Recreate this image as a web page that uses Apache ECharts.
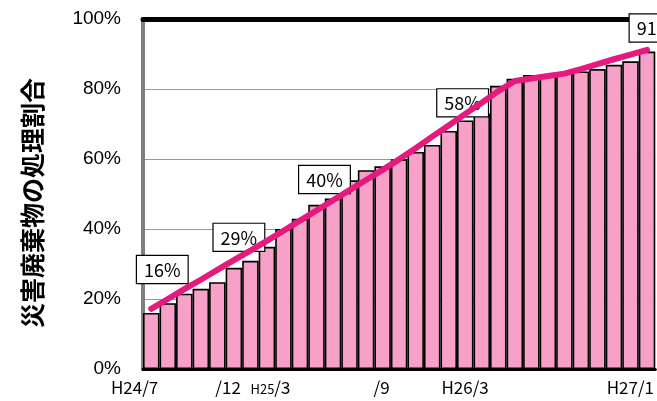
<!DOCTYPE html>
<html>
<head>
<meta charset="utf-8">
<script src="https://cdn.jsdelivr.net/npm/echarts@6/dist/echarts.min.js"></script>
<style>
html,body{margin:0;padding:0;background:#fff;}
#chart{width:657px;height:401px;}
</style>
</head>
<body>
<div id="chart"></div>
<script>
// Months H24/7 .. H27/1
const categories = [
  'H24/7','H24/8','H24/9','H24/10','H24/11','H24/12',
  'H25/1','H25/2','H25/3','H25/4','H25/5','H25/6','H25/7','H25/8','H25/9','H25/10','H25/11','H25/12',
  'H26/1','H26/2','H26/3','H26/4','H26/5','H26/6','H26/7','H26/8','H26/9','H26/10','H26/11','H26/12',
  'H27/1'
];
// Monthly processing ratio (%) - bars
const actualValues = [
  16.0, 18.8, 21.5, 22.9, 24.8, 28.9,
  30.9, 34.9, 40.0, 42.9, 46.9, 48.7, 53.9, 56.8, 57.9, 59.9, 62.0, 64.0,
  68.0, 71.0, 73.0, 80.9, 82.9, 84.0, 84.3, 84.6, 85.0, 85.7, 86.9, 87.9,
  90.7
];
// Trend line (%)
const lineValues = [
  17.2, 20.0, 22.8, 25.5, 28.3, 31.1,
  33.8, 36.6, 39.5, 42.4, 45.3, 48.2, 51.1, 54.0, 56.9, 59.9, 63.1, 66.4,
  69.6, 72.9, 76.1, 79.4, 82.3, 83.0, 83.7, 84.4, 85.7, 87.1, 88.5, 89.8,
  91.2
];
// Axis tick labels (category -> shown text)
const tickCategories = ['H24/7', 'H24/12', 'H25/3', 'H25/9', 'H26/3', 'H27/1'];
const tickLabels     = ['H24/7', '/12',    'H25/3', '/9',    'H26/3', 'H27/1'];
// Categories that carry a value label
const labelCategories = ['H24/7', 'H24/12', 'H25/3', 'H25/9', 'H27/1'];
const yTicks = [0, 20, 40, 60, 80, 100];

// label placement (style only)
const labelOffsets = {
  'H24/7': [11, -30],
  'H24/12': [5, -17],
  'H25/3': [41, -36],
  'H25/9': [80, -50],
  'H27/1': [8, -10]
};

const barData = actualValues.map(function (v, i) {
  const c = categories[i];
  if (labelCategories.indexOf(c) >= 0) {
    return {
      value: v,
      label: {
        show: true,
        position: 'top',
        distance: 0,
        offset: labelOffsets[c],
        formatter: function (p) { return Math.round(p.value) + '%'; },
        fontFamily: 'Noto Sans CJK JP',
        fontSize: 18,
        lineHeight: 20,
        color: '#000',
        backgroundColor: '#fff',
        borderColor: '#000',
        borderWidth: 1.2,
        padding: [4, 7, 3, 7]
      }
    };
  }
  return v;
});

const chart = echarts.init(document.getElementById('chart'));
chart.setOption({
  animation: false,
  backgroundColor: '#fff',
  grid: { left: 143, right: 0, top: 19, bottom: 32 },
  xAxis: [
    {
      type: 'category',
      data: categories,
      boundaryGap: true,
      axisLine: { show: true, lineStyle: { color: '#000', width: 3 } },
      axisTick: { show: false },
      axisLabel: {
        interval: 0,
        margin: 10,
        align: 'right',
        padding: [0, -7, 0, 0],
        fontFamily: 'Noto Sans CJK JP',
        fontSize: 17,
        color: '#000',
        formatter: function (val) {
          const k = tickCategories.indexOf(val);
          if (k < 0) return '';
          const t = tickLabels[k];
          if (t === 'H25/3') return '{s|H25}/3';
          return t;
        },
        rich: {
          s: { fontFamily: 'Noto Sans CJK JP', fontSize: 13, color: '#000', verticalAlign: 'bottom', padding: [3, 0, 0, 0] }
        }
      },
      splitLine: { show: false }
    },
    {
      type: 'category',
      data: categories,
      position: 'top',
      axisLine: { show: true, lineStyle: { color: '#000', width: 5 } },
      axisTick: { show: false },
      axisLabel: { show: false },
      splitLine: { show: false }
    }
  ],
  yAxis: {
    type: 'value',
    min: yTicks[0],
    max: yTicks[yTicks.length - 1],
    interval: 20,
    name: '災害廃棄物の処理割合',
    nameLocation: 'middle',
    nameRotate: 90,
    nameGap: 98,
    nameTextStyle: {
      fontFamily: 'Noto Sans CJK JP',
      fontSize: 25,
      fontWeight: 'bold',
      color: '#000',
      padding: [0, 18, 0, 0]
    },
    axisLine: { show: true, lineStyle: { color: '#808080', width: 4 } },
    axisTick: { show: false },
    axisLabel: {
      margin: 22,
      fontFamily: 'Liberation Sans',
      fontSize: 19,
      color: '#000',
      formatter: '{value}%'
    },
    splitLine: { show: true, lineStyle: { color: '#999', width: 1.2 } }
  },
  series: [
    {
      type: 'bar',
      data: barData,
      barCategoryGap: '0%',
      itemStyle: { color: '#F7A1C9', borderColor: '#000', borderWidth: 1.6 },
      emphasis: { disabled: true }
    },
    {
      type: 'line',
      data: lineValues,
      zlevel: 1,
      symbol: 'none',
      lineStyle: { color: '#E6197F', width: 6, cap: 'round', join: 'round' },
      emphasis: { disabled: true }
    }
  ]
});
</script>
</body>
</html>
